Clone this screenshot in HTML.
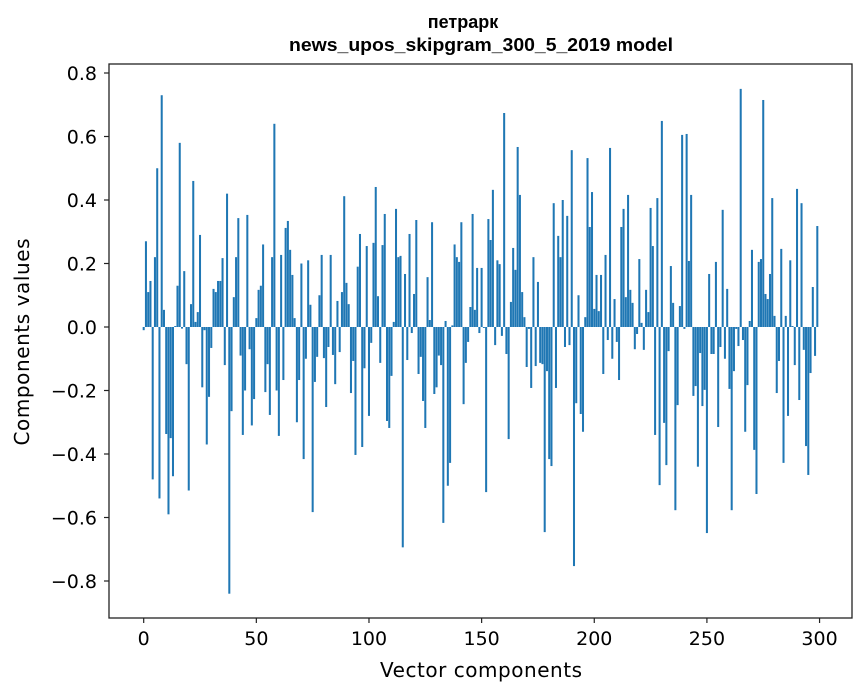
<!DOCTYPE html>
<html><head><meta charset="utf-8"><style>
html,body{margin:0;padding:0;background:#fff;}
svg{display:block;font-family:"DejaVu Sans","Liberation Sans",sans-serif;}
</style></head><body>
<svg id="chart" width="867" height="696" viewBox="0 0 867 696" xmlns="http://www.w3.org/2000/svg">
<rect x="0" y="0" width="867" height="696" fill="#fff"/>
<text x="463" y="28" text-anchor="middle" font-family="Liberation Sans, sans-serif" font-weight="bold" font-size="18">петрарк</text>
<text x="481" y="51" text-anchor="middle" font-family="Liberation Sans, sans-serif" font-weight="bold" font-size="18" textLength="384" lengthAdjust="spacingAndGlyphs">news_upos_skipgram_300_5_2019 model</text>
<g id="bars"></g>
<g id="axes"></g>
<text x="481" y="677" text-anchor="middle" font-size="20" textLength="202">Vector components</text>
<text transform="translate(29,342) rotate(-90)" text-anchor="middle" font-size="20" textLength="207">Components values</text>
</svg>
<script>
const values = [
-0.01,0.27,0.11,0.145,-0.48,0.22,0.50,-0.54,0.73,0.054,
-0.337,-0.59,-0.35,-0.47,0.003,0.13,0.58,-0.005,0.176,-0.117,
-0.515,0.072,0.46,0.016,0.047,0.29,-0.19,-0.01,-0.37,-0.22,
-0.066,0.12,0.11,0.145,0.145,0.217,-0.12,0.42,-0.84,-0.265,
0.094,0.22,0.343,-0.09,-0.34,-0.2,0.353,-0.07,-0.31,-0.227,
0.028,0.117,0.13,0.26,-0.205,-0.117,-0.277,0.22,0.64,-0.2,
-0.343,0.227,-0.167,0.312,0.334,0.243,0.164,0.028,-0.30,-0.167,
0.2,-0.416,-0.1,0.21,0.07,-0.583,-0.173,-0.094,0.1,0.227,
-0.098,-0.252,-0.063,0.227,-0.088,-0.18,0.082,-0.079,0.11,0.412,
0.139,0.072,-0.208,-0.107,-0.403,0.19,0.293,-0.378,-0.13,0.255,
-0.28,-0.05,0.265,0.441,0.097,-0.113,0.258,0.356,-0.296,-0.318,
-0.154,0.016,0.372,0.22,0.224,-0.694,0.167,-0.104,0.293,-0.019,
0.104,0.337,-0.148,-0.094,-0.233,-0.318,0.157,0.022,0.33,-0.211,
-0.19,-0.09,-0.12,-0.617,0.019,-0.5,-0.428,0.005,0.26,0.22,
0.205,0.33,-0.243,-0.113,-0.047,0.063,0.356,0.054,0.186,-0.019,
0.186,-0.003,-0.52,0.34,0.274,0.432,-0.057,0.21,0.198,-0.028,
0.674,-0.085,-0.353,0.079,0.249,0.18,0.567,0.416,0.11,0.031,
-0.126,-0.006,-0.192,0.22,-0.123,0.142,-0.113,-0.117,-0.646,-0.139,
-0.416,-0.438,0.39,-0.192,0.287,0.22,0.4,-0.063,0.35,-0.057,
0.557,-0.753,-0.24,0.1,-0.274,-0.33,0.031,0.532,0.315,0.425,
0.057,0.164,0.05,0.164,-0.148,0.227,-0.041,0.564,-0.1,0.088,
-0.047,-0.167,0.315,0.372,0.094,0.416,0.117,0.076,-0.07,-0.022,
0.214,0.013,-0.072,0.117,0.047,0.375,0.255,-0.34,0.406,-0.498,
0.649,-0.302,-0.435,-0.076,0.192,0.076,-0.577,-0.246,0.066,0.605,
-0.006,0.608,0.208,0.416,-0.217,-0.186,-0.44,-0.082,-0.249,-0.198,
-0.649,0.167,-0.085,-0.085,0.205,-0.315,-0.063,0.369,-0.1,0.12,
-0.195,-0.577,-0.139,-0.006,-0.06,0.75,-0.041,-0.33,-0.183,0.019,
0.243,-0.387,-0.526,0.205,0.214,0.715,0.104,0.088,0.167,0.406,
0.035,-0.208,-0.107,0.246,-0.428,0.035,-0.28,0.21,0.003,-0.12,
0.435,-0.23,0.39,-0.072,-0.375,-0.466,-0.145,0.126,-0.091,0.318
];
const xTicks = [0,50,100,150,200,250,300];
const yTicks = [-0.8,-0.6,-0.4,-0.2,0.0,0.2,0.4,0.6,0.8];

const NS = "http://www.w3.org/2000/svg";
const L = 109, R = 852, T = 64, B = 618;
const xMin = -15.4, xMax = 314.4;
function xs(v){ return L + (v - xMin) / (xMax - xMin) * (R - L); }
function ys(v){ return 327 - v * 317.5; }

const barsG = document.getElementById('bars');
const bw = 0.9 * (R - L) / (xMax - xMin);
values.forEach((v, i) => {
  const r = document.createElementNS(NS, 'rect');
  const y0 = ys(0), y1 = ys(v);
  r.setAttribute('x', (xs(i) - bw / 2).toFixed(2));
  r.setAttribute('y', Math.min(y0, y1).toFixed(2));
  r.setAttribute('width', bw.toFixed(2));
  r.setAttribute('height', Math.max(Math.abs(y1 - y0), 0.3).toFixed(2));
  r.setAttribute('fill', '#1f77b4');
  
  
  barsG.appendChild(r);
});

const axG = document.getElementById('axes');
const frame = document.createElementNS(NS, 'rect');
frame.setAttribute('x', L); frame.setAttribute('y', T);
frame.setAttribute('width', R - L); frame.setAttribute('height', B - T);
frame.setAttribute('fill', 'none'); frame.setAttribute('stroke', '#222'); frame.setAttribute('stroke-width', '1.3');


axG.appendChild(frame);

xTicks.forEach(t => {
  const x = xs(t);
  const ln = document.createElementNS(NS, 'line');
  ln.setAttribute('x1', x); ln.setAttribute('x2', x);
  ln.setAttribute('y1', B); ln.setAttribute('y2', B + 5);
  ln.setAttribute('stroke', '#222'); ln.setAttribute('stroke-width', '1.2');
  
  
  axG.appendChild(ln);
  const tx = document.createElementNS(NS, 'text');
  tx.setAttribute('x', x); tx.setAttribute('y', B + 27);
  tx.setAttribute('text-anchor', 'middle'); tx.setAttribute('font-size', '19');
  tx.textContent = String(t);
  
  
  axG.appendChild(tx);
});

yTicks.forEach(t => {
  const y = ys(t);
  const ln = document.createElementNS(NS, 'line');
  ln.setAttribute('x1', L - 5); ln.setAttribute('x2', L);
  ln.setAttribute('y1', y); ln.setAttribute('y2', y);
  ln.setAttribute('stroke', '#222'); ln.setAttribute('stroke-width', '1.2');
  
  
  axG.appendChild(ln);
  const tx = document.createElementNS(NS, 'text');
  tx.setAttribute('x', L - 12); tx.setAttribute('y', y + 7);
  tx.setAttribute('text-anchor', 'end'); tx.setAttribute('font-size', '19');
  tx.textContent = (t < 0 ? '\u2212' : '') + Math.abs(t).toFixed(1);
  
  
  axG.appendChild(tx);
});
</script>
</body></html>
